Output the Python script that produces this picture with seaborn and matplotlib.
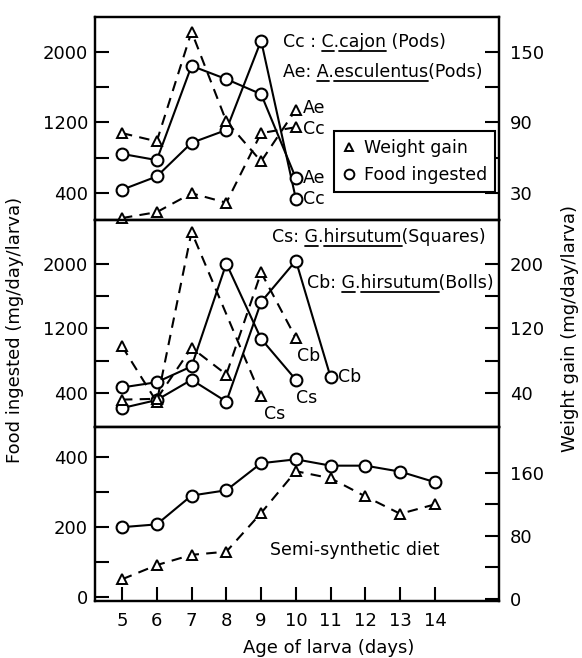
import matplotlib
matplotlib.use("Agg")
import matplotlib.pyplot as plt
from matplotlib.lines import Line2D
import seaborn as sns

# ---------------- data ----------------
day_ticks = [5, 6, 7, 8, 9, 10, 11, 12, 13, 14]

# top panel: C. cajon (Cc) and A. esculentus (Ae) pods
top_days = [5, 6, 7, 8, 9, 10]
food_cc = [440, 590, 970, 1115, 2125, 335]
food_ae = [845, 775, 1840, 1690, 1520, 570]
wt_cc = [9, 14, 30, 22, 81, 86]
wt_ae = [81, 74, 167, 91, 57, 101]

# middle panel: G. hirsutum squares (Cs) and bolls (Cb)
food_days_cs = [5, 6, 7, 8, 9, 10]
food_cs = [470, 535, 730, 2000, 1070, 565]
food_days_cb = [5, 6, 7, 8, 9, 10, 11]
food_cb = [215, 315, 565, 295, 1525, 2035, 595]
wt_days_cs = [5, 6, 7, 9]
wt_cs = [98, 29, 239, 36]
wt_days_cb = [5, 6, 7, 8, 9, 10]
wt_cb = [32, 33, 96, 63, 189, 108]

# bottom panel: semi-synthetic diet
bot_days = [5, 6, 7, 8, 9, 10, 11, 12, 13, 14]
food_ss = [200, 208, 290, 305, 382, 393, 375, 375, 358, 328]
wt_ss = [25, 43, 56, 60, 109, 162, 153, 130, 108, 120]

# ---------------- style ----------------
sns.set_style("ticks")
plt.rcParams["font.family"] = ["DejaVu Sans"]
plt.rcParams["text.color"] = "black"
plt.rcParams["axes.labelcolor"] = "black"
FS = 13
AS = 12.5
FW, FH = 582, 658

fig = plt.figure(figsize=(FW / 100, FH / 100), dpi=100)
XL, XR = 95, 499


def px_axes(top, bottom):
    return fig.add_axes([XL / FW, 1 - bottom / FH, (XR - XL) / FW, (bottom - top) / FH])


ax1 = px_axes(17, 220)
ax2 = px_axes(220, 427)
ax3 = px_axes(427, 601)
ax1r, ax2r, ax3r = ax1.twinx(), ax2.twinx(), ax3.twinx()

xlim = (4.224, 15.84)


def food_line(ax, x, y):
    sns.lineplot(x=x, y=y, ax=ax, color="black", lw=1.5, marker="o",
                 markersize=8.5, markerfacecolor="white", markeredgecolor="black",
                 markeredgewidth=1.5, estimator=None, sort=False, clip_on=False)
    ax.lines[-1].set_markerfacecolor("white")


def wt_line(ax, x, y):
    sns.lineplot(x=x, y=y, ax=ax, color="black", lw=1.5, linestyle=(0, (5, 3.5)),
                 marker="^", markersize=6.5, markerfacecolor="white",
                 markeredgecolor="black", markeredgewidth=1.4,
                 estimator=None, sort=False, clip_on=False)
    ax.lines[-1].set_markerfacecolor("white")
    ax.lines[-1].set_linestyle((0, (5, 3.5)))


# top
food_line(ax1, top_days, food_cc)
food_line(ax1, top_days, food_ae)
wt_line(ax1r, top_days, wt_cc)
wt_line(ax1r, top_days, wt_ae)
ax1.set_ylim(98, 2392)
ax1r.set_ylim(98 * 0.075, 2392 * 0.075)
ax1.set_yticks([400, 1200, 2000])
ax1.set_yticks([800, 1600], minor=True)
ax1r.set_yticks([30, 90, 150])
ax1r.set_yticks([60, 120], minor=True)

# middle
food_line(ax2, food_days_cs, food_cs)
food_line(ax2, food_days_cb, food_cb)
wt_line(ax2r, wt_days_cs, wt_cs)
wt_line(ax2r, wt_days_cb, wt_cb)
ax2.set_ylim(-18, 2537)
ax2r.set_ylim(-1.8, 253.7)
ax2.set_yticks([400, 1200, 2000])
ax2.set_yticks([800, 1600], minor=True)
ax2r.set_yticks([40, 120, 200])
ax2r.set_yticks([80, 160], minor=True)

# bottom
food_line(ax3, bot_days, food_ss)
wt_line(ax3r, bot_days, wt_ss)
ax3.set_ylim(-10, 485)
ax3r.set_ylim(-2.5, 218)
ax3.set_yticks([0, 200, 400])
ax3.set_yticks([100, 300], minor=True)
ax3r.set_yticks([0, 80, 160])
ax3r.set_yticks([40, 120], minor=True)

for ax in (ax1, ax2, ax3, ax1r, ax2r, ax3r):
    ax.set_xlim(*xlim)
    ax.set_xlabel("")
    ax.set_ylabel("")
    for s in ax.spines.values():
        s.set_visible(True)
        s.set_linewidth(1.6)
        s.set_color("black")
    ax.tick_params(which="both", direction="in", length=10, width=1.5,
                   labelsize=FS, colors="black")

for ax in (ax1, ax2, ax3):
    ax.tick_params(axis="y", which="both", left=True, right=False, pad=5)
for ax in (ax1r, ax2r, ax3r):
    ax.tick_params(axis="y", which="both", right=True, left=False, pad=8)
for ax in (ax1, ax2, ax1r, ax2r, ax3r):
    ax.tick_params(axis="x", which="both", bottom=False, top=False, labelbottom=False)
ax3.set_xticks(day_ticks)
ax3.tick_params(axis="x", bottom=True, top=False, pad=8)

# ---------------- end labels ----------------
lab = dict(fontsize=AS, va="center", ha="left", textcoords="offset points")
ax1r.annotate("Ae", (top_days[-1], wt_ae[-1]), xytext=(5, 1), **lab)
ax1r.annotate("Cc", (top_days[-1], wt_cc[-1]), xytext=(5, -1), **lab)
ax1.annotate("Ae", (top_days[-1], food_ae[-1]), xytext=(5, 0), **lab)
ax1.annotate("Cc", (top_days[-1], food_cc[-1]), xytext=(5, 0), **lab)

ax2r.annotate("Cs", (wt_days_cs[-1], wt_cs[-1]), xytext=(2, -13), **lab)
ax2.annotate("Cs", (food_days_cs[-1], food_cs[-1]), xytext=(0, -13), **lab)
ax2r.annotate("Cb", (wt_days_cb[-1], wt_cb[-1]), xytext=(1, -13), **lab)
ax2.annotate("Cb", (food_days_cb[-1], food_cb[-1]), xytext=(5, 0), **lab)

fig.text(355 / FW, 1 - 550 / FH, "Semi-synthetic diet",
         fontsize=AS, ha="center", va="center")

# ---------------- rich (underlined) text ----------------
renderer = fig.canvas.get_renderer()


def text_w(s, size):
    t = fig.text(0, 0, s, fontsize=size)
    w = t.get_window_extent(renderer).width
    t.remove()
    return w


def rich(xpx, ybase, pieces, size, drop=4):
    full = "".join(p for p, _ in pieces)
    fig.text(xpx / FW, 1 - ybase / FH, full, fontsize=size, ha="left", va="baseline")
    bar = text_w("|", size)
    pre = ""
    for p, ul in pieces:
        if ul:
            x0 = xpx + (text_w(pre + "|", size) - bar if pre else 0)
            x1 = xpx + text_w(pre + p + "|", size) - bar
            y = 1 - (ybase + drop) / FH
            fig.add_artist(Line2D([x0 / FW, x1 / FW], [y, y], transform=fig.transFigure,
                                  color="black", lw=1.3))
        pre += p


rich(283, 47, [("Cc : ", False), ("C", True), (".", False), ("cajon", True), (" (Pods)", False)], AS)
rich(283, 77, [("Ae: ", False), ("A", True), (".", False), ("esculentus", True), ("(Pods)", False)], AS)
rich(272, 242, [("Cs: ", False), ("G", True), (".", False), ("hirsutum", True), ("(Squares)", False)], AS)
rich(307, 288, [("Cb: ", False), ("G", True), (".", False), ("hirsutum", True), ("(Bolls)", False)], AS)

# ---------------- legend ----------------
handles = [
    Line2D([], [], ls="none", marker="^", ms=6, mfc="white", mec="black", mew=1.4),
    Line2D([], [], ls="none", marker="o", ms=7, mfc="white", mec="black", mew=1.4),
]
leg = fig.legend(handles, ["Weight gain", "Food ingested"], loc="upper left",
                 bbox_to_anchor=(334 / FW, 1 - 131 / FH), bbox_transform=fig.transFigure,
                 fontsize=AS, frameon=True, fancybox=False, edgecolor="black",
                 handlelength=0.8, handletextpad=0.5, borderpad=0.5, labelspacing=0.55,
                 borderaxespad=0, borderaxespad_=None) if False else fig.legend(
    handles, ["Weight gain", "Food ingested"], loc="upper left",
    bbox_to_anchor=(334 / FW, 1 - 131 / FH), bbox_transform=fig.transFigure,
    fontsize=AS, frameon=True, fancybox=False, edgecolor="black",
    handlelength=0.8, handletextpad=0.45, borderpad=0.45, labelspacing=0.55,
    borderaxespad=0)
leg.get_frame().set_linewidth(1.5)
leg.get_frame().set_alpha(1)

# ---------------- axis titles ----------------
fig.text(15 / FW, 1 - 330 / FH, "Food ingested (mg/day/larva)", rotation=90,
         ha="center", va="center", fontsize=FS)
fig.text(570 / FW, 1 - 328 / FH, "Weight gain (mg/day/larva)", rotation=90,
         ha="center", va="center", fontsize=FS)
fig.text(329 / FW, 1 - 648 / FH, "Age of larva (days)", ha="center", va="center",
         fontsize=FS)

fig.savefig("out.png", dpi=100)
